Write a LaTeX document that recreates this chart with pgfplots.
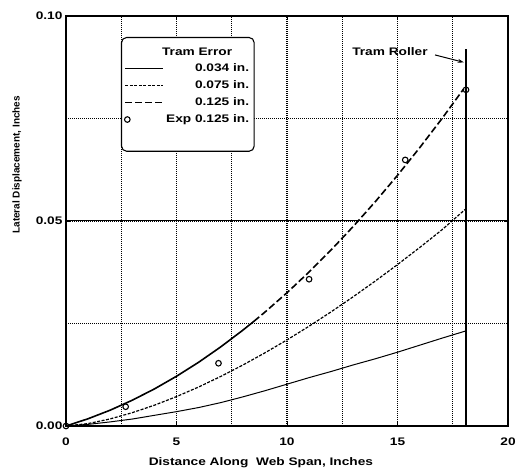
\documentclass[border=0pt]{standalone}
\usepackage{fontspec}
\setmainfont{Liberation Sans}
\newfontfamily\wide[FakeStretch=1.25]{Liberation Sans}
\usepackage{pgfplots}
\pgfplotsset{compat=1.18}
\usetikzlibrary{arrows.meta}
\pgfplotsset{markleg/.style={legend image code/.code={\draw[##1] plot coordinates {(2bp,0bp)};}}}
\begin{document}
\begin{tikzpicture}
\begin{axis}[name=ax, scale only axis, width=442bp, height=410bp,
  xmin=0, xmax=20, ymin=0, ymax=0.1,
  xtick={0,5,10,15,20}, xticklabels={0,5,10,15,20},
  ytick={0,0.05,0.1}, yticklabels={0.00,0.05,0.10},
  scaled y ticks=false,
  minor xtick={2.5,7.5,12.5,17.5}, minor ytick={0.025,0.075},
  grid=both,
  major grid style={dash pattern=on 1bp off 1bp, line width=1.4bp, black},
  minor grid style={dash pattern=on 1bp off 1bp, line width=1.4bp, black},
  extra y ticks={0.05}, extra y tick labels={},
  extra y tick style={grid=major, major grid style={solid, line width=1bp, black}},
  axis line style={line width=1.2bp},
  tick style={black, line width=0.8bp}, major tick length=4bp, minor tick length=0bp,
  tick label style={font=\wide\bfseries\fontsize{11}{13}\selectfont},
  xticklabel style={yshift=-8bp},
  xlabel={Distance Along\ \ Web Span, Inches},
  ylabel={Lateral Displacement, Inches},
  xlabel style={font=\wide\bfseries\fontsize{11}{13}\selectfont, at={(rel axis cs:0.441,0)}, anchor=center, yshift=-37bp},
  ylabel style={font=\bfseries\fontsize{10}{12}\selectfont, at={(rel axis cs:0,0.637)}, anchor=center, yshift=49bp},
  legend image code/.code={\draw[#1] (0bp,0bp) -- (38bp,0bp);},
  legend cell align=right,
  legend style={at={(rel axis cs:0.1244,0.9488)}, anchor=north west,
    draw=black, line width=1.1bp, rounded corners=5bp,
    inner xsep=3bp, inner ysep=8bp, row sep=3.5bp,
    font=\wide\bfseries\fontsize{11}{13}\selectfont},
]
\addlegendimage{empty legend}
\addlegendentry{\makebox[0pt][r]{Tram Error\hspace*{17bp}}}
\addlegendimage{black, line width=1bp}
\addlegendentry{0.034 in.}
\addlegendimage{black, line width=1.2bp, dash pattern=on 3bp off 1.5bp}
\addlegendentry{0.075 in.}
\addlegendimage{black, line width=1.6bp, dash pattern=on 7bp off 3bp}
\addlegendentry{0.125 in.}
\addlegendimage{only marks, mark=o, mark size=2.8bp, mark options={line width=1.1bp, black}, markleg}
\addlegendentry{Exp 0.125 in.}
\addlegendimage{empty legend}
\addlegendentry{\rule{0pt}{8bp}}

% 0.034 in.
\addplot[black, line width=1bp, forget plot] coordinates {
(0,0) (1,0.0004) (2,0.0010) (3,0.0017) (4,0.0026) (5,0.0035) (6,0.0045)
(7,0.0057) (8,0.0071) (9,0.0086) (10,0.0102) (11,0.0118) (12,0.0133)
(13,0.0149) (14,0.0164) (15,0.0180) (16,0.0197) (17,0.0214) (18.1,0.0232)};
% 0.075 in.
\addplot[black, line width=1.2bp, dash pattern=on 3bp off 1.5bp, forget plot] coordinates {
(0,0) (1,0.00059) (2,0.00173) (3,0.00325) (4,0.00507) (5,0.00717) (6,0.00951)
(7,0.01208) (8,0.01486) (9,0.01784) (10,0.0210) (11,0.02434) (12,0.02786)
(13,0.03154) (14,0.03537) (15,0.03937) (16,0.04351) (17,0.0478) (18.1,0.0530)};
% 0.125 in. (solid start, dashed rest)
\addplot[black, line width=1.6bp, forget plot] coordinates {
(0,0) (1,0.00177) (2,0.00386) (3,0.00629) (4,0.00904) (5,0.01213) (6,0.01554)
(7,0.01929) (8,0.02336) (8.5,0.02552)};
\addplot[black, line width=1.6bp, dash pattern=on 7bp off 3bp, forget plot] coordinates {
(8.5,0.02552) (9,0.02777) (10,0.0325) (11,0.03757) (12,0.04296) (13,0.04869)
(14,0.05474) (15,0.06113) (16,0.06784) (17,0.07489) (18,0.08226)};
% experiment
\addplot[only marks, mark=o, mark size=2.8bp, mark options={line width=1.1bp, black}, forget plot] coordinates {
(0,0) (2.7,0.0047) (6.9,0.0153) (11,0.0358) (15.35,0.0649) (18.1,0.0820)};
% tram roller
\addplot[black, line width=1.2bp, forget plot] coordinates {(18.1,0) (18.1,0.092)};
\draw[-{Stealth[length=6bp,width=4bp]}, line width=1bp] (axis cs:16.7,0.0905) -- (axis cs:18.0,0.0887);
\node[font=\wide\bfseries\fontsize{11}{13}\selectfont] at (axis cs:14.66,0.0912) {Tram Roller};
\end{axis}
\pgfresetboundingbox
\path ([xshift=-66bp,yshift=-44bp]ax.south west) rectangle ([xshift=10bp,yshift=16bp]ax.north east);
\end{tikzpicture}
\end{document}
